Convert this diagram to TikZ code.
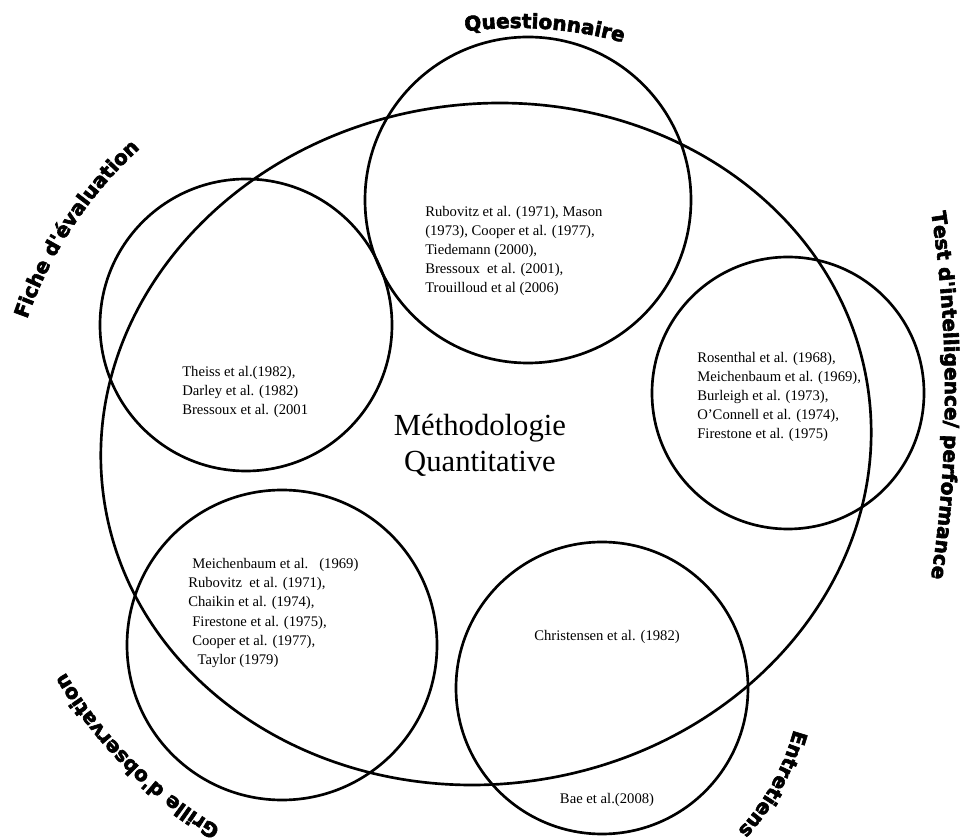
\documentclass[tikz,border=0pt]{standalone}
\usepackage{fontspec}
\setmainfont{Liberation Serif}
\newfontface\lblfont[FakeBold=3]{DejaVu Sans Bold}
\usetikzlibrary{decorations.text,calc}
\newcommand\lblstyle{\lblfont\fontsize{15pt}{15pt}\selectfont}
\newcommand\arclabel[5]{%
  \path[decorate, decoration={text along path, text align=center, text={|\lblstyle|#5}}]
    ($(#1,#2)+(#3+180:#4)+(#3+45:#4-7)$) arc[start angle=#3+45, end angle=#3-45, radius=#4-7];
}
\begin{document}
\begin{tikzpicture}[x=0.75pt,y=0.75pt,
  ring/.style={line width=2pt},
  cite/.style={font=\fontsize{11pt}{14.4pt}\selectfont, align=left, inner sep=0pt}]
\useasboundingbox (0,0) rectangle (971,839);
\fill[white] (0,0) rectangle (971,839);
% big ellipse
\coordinate (mc) at (486,395);
\draw[ring, rotate around={8:(mc)}] (mc) ellipse [x radius=386, y radius=340];
% circles
\coordinate (cq) at (528,639);
\coordinate (cf) at (246,514);
\coordinate (ct) at (788,446);
\coordinate (cg) at (282,194);
\coordinate (ce) at (602,151);
\draw[ring] (cq) circle [radius=163];
\draw[ring] (cf) circle [radius=146];
\draw[ring] (ct) circle [radius=136];
\draw[ring] (cg) circle [radius=155];
\draw[ring] (ce) circle [radius=146];
% texts
\node[cite, anchor=west] (qtext) at (425,588) {Rubovitz et al. (1971), Mason\\(1973), Cooper et al. (1977),\\Tiedemann (2000),\\Bressoux\ \ et al. (2001),\\Trouilloud et al (2006)};
\node[cite, anchor=west] (ftext) at (182,447) {Theiss et al.(1982),\\Darley et al. (1982)\\Bressoux et al. (2001};
\node[cite, anchor=west] (ttext) at (697,442) {Rosenthal et al. (1968),\\Meichenbaum et al. (1969),\\Burleigh et al. (1973),\\O’Connell et al. (1974),\\Firestone et al. (1975)};
\node[cite, anchor=west] (gtext) at (188,226) {\hspace{3pt}Meichenbaum et al.\ \ \ (1969)\\Rubovitz\ \ et al. (1971),\\Chaikin et al. (1974),\\\hspace{3pt}Firestone et al. (1975),\\\hspace{3pt}Cooper et al. (1977),\\\hspace{7pt}Taylor (1979)};
\node[cite] (etext) at (607,202) {Christensen et al. (1982)};
\node[cite] (btext) at (607,39) {Bae et al.(2008)};
\node[align=center, inner sep=0pt, font=\fontsize{23pt}{27pt}\selectfont] (title) at (480,394) {Méthodologie\\Quantitative};
% curved labels
\arclabel{545}{817}{86}{402}{Questionnaire}
\arclabel{67}{616}{146.5}{420}{Fiche d'évaluation}
\arclabel{952}{444}{0}{1218}{Test d'intelligence/ performance}
\arclabel{778}{52}{-29}{250}{Entretiens}
\arclabel{128}{74}{-135}{440}{Grille d'observation}
\end{tikzpicture}
\end{document}
